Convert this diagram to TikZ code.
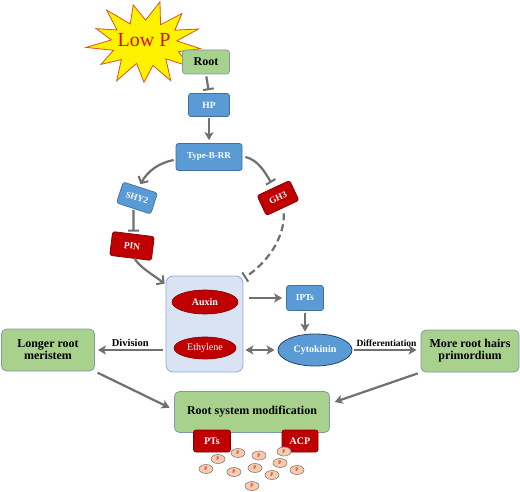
\documentclass[tikz,border=0pt]{standalone}
\usepackage{fontspec}
\setmainfont{Liberation Serif}
\usetikzlibrary{arrows.meta,shapes.geometric,calc}
\definecolor{pblue}{HTML}{5B9BD5}
\definecolor{pblueD}{HTML}{41719C}
\definecolor{pred}{HTML}{C00000}
\definecolor{predD}{HTML}{7F0000}
\definecolor{pgreen}{HTML}{A9D18E}
\definecolor{pgreenD}{HTML}{8099A8}
\definecolor{pbox}{HTML}{DAE3F3}
\definecolor{pboxD}{HTML}{8FAADC}
\definecolor{garrow}{HTML}{707070}
\definecolor{pcirc}{HTML}{F8CBAD}
\definecolor{starline}{HTML}{D9541E}
\definecolor{lowp}{HTML}{D81010}
\tikzset{
  fs/.style={font=\bfseries\fontsize{#1}{#1}\selectfont},
  bluebox/.style={rectangle, rounded corners=2.5pt, fill=pblue, draw=pblueD, line width=0.7pt, text=white, inner sep=0pt},
  redbox/.style={rectangle, rounded corners=2.5pt, fill=pred, draw=predD, line width=0.7pt, text=white, inner sep=0pt},
  greenbox/.style={rectangle, rounded corners=5pt, fill=pgreen, draw=pgreenD, line width=0.8pt, text=black, inner sep=0pt, align=center},
  conn/.style={draw=garrow, line width=2.2pt},
  arr/.style={conn, -{Stealth[length=8pt,width=9pt,inset=2pt]}},
  barb/.style={conn, -{Straight Barb[length=5pt,width=11pt,line width=2pt]}},
  darr/.style={conn, {Stealth[length=8pt,width=9pt,inset=2pt]}-{Stealth[length=8pt,width=9pt,inset=2pt]}},
  inh/.style={conn, -{Bar[width=11pt,line width=2pt]}},
  lbl/.style={text=black, inner sep=1pt},
  pdot/.style={ellipse, fill=pcirc, draw=gray, line width=0.6pt, minimum width=14pt, minimum height=9pt, inner sep=0pt, text=pred, font=\fontsize{5.5}{6}\selectfont}
}
\begin{document}
\begin{tikzpicture}[x=1pt,y=-1pt]
\useasboundingbox[fill=white] (0,0) rectangle (520,492);

% star
\draw[fill=yellow, draw=starline, line width=0.8pt]
  ({145+56*cos(8)},{43+41*sin(8)})
  \foreach \i in {1,...,25} { -- ({145+(mod(\i,2)==0?56:34)*(1+0.06*sin(\i*97))*cos(\i*360/26+8)},{43+(mod(\i,2)==0?41:22)*(1+0.06*sin(\i*97))*sin(\i*360/26+8)}) } -- cycle;
\node[text=lowp, font=\fontsize{20}{20}\selectfont, inner sep=0pt] (lowp) at (144,40) {Low P};

% boxes
\node[greenbox, fs=12, minimum width=47pt, minimum height=24pt, rounded corners=3pt] (root) at (206,62) {Root};
\node[bluebox, fs=9.5, minimum width=41pt, minimum height=23pt] (hp) at (209,105) {HP};
\node[bluebox, fs=9, minimum width=66pt, minimum height=27pt] (tbrr) at (209,157) {Type-B-RR};
\node[bluebox, fs=9, minimum width=36pt, minimum height=22pt, rotate=-18] (shy2) at (137,198) {SHY2};
\node[redbox, fs=9.5, minimum width=42pt, minimum height=24pt, rotate=-7] (pin) at (132,246) {PIN};
\node[redbox, fs=9, minimum width=36pt, minimum height=22pt, rotate=25] (gh3) at (278,198) {GH3};

\node[rectangle, rounded corners=7pt, fill=pbox, draw=pboxD, line width=0.8pt, minimum width=77pt, minimum height=96pt] (cbox) at (204.5,324) {};
\node[ellipse, fill=pred, draw=predD, line width=0.6pt, minimum width=66pt, minimum height=24pt, inner sep=0pt, text=white, fs=10] (auxin) at (205,302) {Auxin};
\node[ellipse, fill=pred, draw=predD, line width=0.6pt, minimum width=62pt, minimum height=22pt, inner sep=0pt, text=white, font=\fontsize{10}{10}\selectfont] (eth) at (205,348) {Ethylene};

\node[bluebox, fs=9.2, minimum width=37pt, minimum height=25pt] (ipts) at (305,298) {IPTs};
\node[ellipse, fill=pblue, draw=pblueD!60!black, line width=0.8pt, minimum width=74pt, minimum height=32pt, inner sep=0pt, text=white, fs=10] (cyto) at (315,350) {Cytokinin};

\node[greenbox, fs=12, minimum width=98pt, minimum height=42pt] (more) at (470,351) {More root hairs\\primordium};
\node[greenbox, fs=12, minimum width=93pt, minimum height=42pt] (longer) at (48,350) {Longer root\\meristem};
\node[greenbox, fs=12, minimum width=155pt, minimum height=41pt] (rsm) at (252,412) {Root system modification};
\node[redbox, fs=10, minimum width=37pt, minimum height=22pt] (pts) at (212,441) {PTs};
\node[redbox, fs=10, minimum width=36pt, minimum height=22pt] (acp) at (300,441) {ACP};

\foreach \n/\x/\y in {1/238/453, 2/218/459, 3/259/455.5, 4/284/451.5, 5/206/469, 6/234/472, 7/255/468, 8/280/463, 9/272/475, 10/297/470, 11/252/486}
  \node[pdot] (p\n) at (\x,\y) {P};

% connectors
\draw[inh, shorten <=2pt, shorten >=3pt] (root.south) -- (hp.north);
\draw[arr, shorten <=1pt, shorten >=3pt] (hp.south) -- (tbrr.north);
\draw[barb] ($(tbrr.west)+(-2,3)$) .. controls +(-15,3) and +(7,-13) .. ($(shy2.north)+(0,-3)$);
\draw[inh] ($(tbrr.east)+(3,0)$) .. controls +(13,3) and +(-6,-10) .. ($(gh3.north)+(-2,-5)$);
\draw[inh, shorten <=1pt, shorten >=2pt] (shy2.south) -- (pin.north);
\draw[barb] ($(pin.south)+(4,0)$) .. controls +(4,8) and +(-12,-9) .. ($(cbox.north west)+(-1,8)$);
\draw[inh, dashed, dash pattern=on 7pt off 4pt] ($(gh3.south)+(1,5)$) .. controls +(1,25) and +(22,-14) .. ($(cbox.north east)+(1,2)$);

\draw[arr, shorten <=6pt, shorten >=4pt] (cbox.east |- ipts.west) -- (ipts.west);
\draw[arr, shorten <=2pt, shorten >=2pt] (ipts.south) -- (ipts.south |- cyto.north);
\draw[darr, shorten <=2pt, shorten >=3pt] (cbox.east |- cyto.west) -- (cyto.west);
\draw[arr, shorten <=2pt, shorten >=4pt] (cyto.east) -- node[lbl, above=1pt, fs=9.5] (difflbl) {Differentiation} (more.west |- cyto.east);
\draw[arr, shorten <=3pt, shorten >=3pt] (cbox.west |- longer.east) -- node[lbl, above=1pt, fs=10.5] (divlbl) {Division} (longer.east);
\draw[arr, shorten <=3pt, shorten >=5pt] (longer.south east) -- ($(rsm.north west)!0.45!(rsm.south west)$);
\draw[arr, shorten <=3pt, shorten >=5pt] (more.south west) -- ($(rsm.north east)!0.3!(rsm.south east)$);
\end{tikzpicture}
\end{document}
